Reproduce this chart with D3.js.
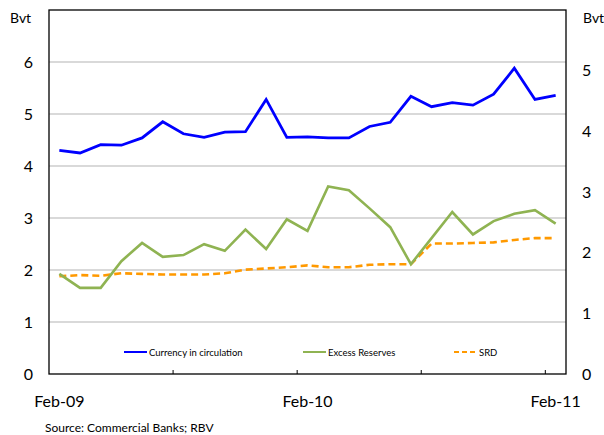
<!DOCTYPE html>
<html>
<head>
<meta charset="utf-8">
<script src="https://cdn.jsdelivr.net/npm/d3@7"></script>
<style>
  body { margin: 0; background: #fff; }
  svg text { font-family: Lato, "DejaVu Sans", sans-serif; fill: #000; }
</style>
</head>
<body>
<svg id="chart"></svg>
<script>
// monthly categories, Feb-09 .. Feb-11
let months = ['Feb-09','Mar-09','Apr-09','May-09','Jun-09','Jul-09','Aug-09','Sep-09','Oct-09','Nov-09','Dec-09','Jan-10',
              'Feb-10','Mar-10','Apr-10','May-10','Jun-10','Jul-10','Aug-10','Sep-10','Oct-10','Nov-10','Dec-10','Jan-11','Feb-11'];
let shownLabels = ['Feb-09', 'Feb-10', 'Feb-11'];

// left axis
let currency = [4.30, 4.25, 4.41, 4.40, 4.54, 4.85, 4.62, 4.55, 4.65, 4.66, 5.28, 4.55,
                4.56, 4.54, 4.54, 4.76, 4.84, 5.34, 5.14, 5.22, 5.17, 5.38, 5.88, 5.28, 5.36];
// right axis
let excess = [1.65, 1.42, 1.42, 1.86, 2.16, 1.93, 1.96, 2.14, 2.03, 2.38, 2.06, 2.55,
              2.36, 3.09, 3.03, 2.73, 2.42, 1.81, 2.24, 2.67, 2.30, 2.52, 2.64, 2.70, 2.48];
let srd = [1.61, 1.63, 1.62, 1.66, 1.65, 1.64, 1.64, 1.64, 1.66, 1.72, 1.74, 1.76,
           1.79, 1.76, 1.76, 1.80, 1.81, 1.81, 2.15, 2.15, 2.16, 2.17, 2.21, 2.24, 2.24];

let leftTicks = [0, 1, 2, 3, 4, 5, 6];
let rightTicks = [0, 1, 2, 3, 4, 5];

let width = 604, height = 435;
let plot = { left: 49, right: 566, top: 10, bottom: 374 };

let svg = d3.select('#chart').attr('width', width).attr('height', height);

let xScale = d3.scaleBand().domain(months).range([plot.left, plot.right]);
let yLeft = d3.scaleLinear().domain([0, 7]).range([plot.bottom, plot.top]);
let yRight = d3.scaleLinear().domain([0, 6]).range([plot.bottom, plot.top]);
let cx = (m) => xScale(m) + xScale.bandwidth() / 2;

// gridlines
svg.append('g')
   .selectAll('line')
   .data(leftTicks.filter(d => d > 0))
   .enter()
   .append('line')
   .attr('x1', plot.left).attr('x2', plot.right)
   .attr('y1', d => yLeft(d)).attr('y2', d => yLeft(d))
   .attr('stroke', '#b4b4b4').attr('stroke-width', 1.2);

// left axis labels
let yAxisL = d3.axisLeft(yLeft).tickValues(leftTicks).tickFormat(d3.format('d')).tickSize(0).tickPadding(16);
let gL = svg.append('g').attr('transform', 'translate(' + plot.left + ',0)').call(yAxisL);
gL.select('.domain').remove();
gL.selectAll('text').style('font-size', '16px');

// right axis labels
let yAxisR = d3.axisRight(yRight).tickValues(rightTicks).tickFormat(d3.format('d')).tickSize(0).tickPadding(16);
let gR = svg.append('g').attr('transform', 'translate(' + plot.right + ',0)').call(yAxisR);
gR.select('.domain').remove();
gR.selectAll('text').style('font-size', '16px');

// x axis labels
let xAxis = d3.axisBottom(xScale).tickValues(shownLabels).tickSize(0).tickPadding(22);
let gX = svg.append('g').attr('transform', 'translate(0,' + plot.bottom + ')').call(xAxis);
gX.select('.domain').remove();
gX.selectAll('text').style('font-size', '16px');

// small inward ticks every 6 months
svg.append('g')
   .selectAll('line')
   .data(months.filter((m, i) => i > 0 && i % 6 === 0))
   .enter()
   .append('line')
   .attr('x1', d => xScale(d)).attr('x2', d => xScale(d))
   .attr('y1', plot.bottom).attr('y2', plot.bottom - 4)
   .attr('stroke', '#000').attr('stroke-width', 1);

// frame
svg.append('rect')
   .attr('x', plot.left).attr('y', plot.top)
   .attr('width', plot.right - plot.left).attr('height', plot.bottom - plot.top)
   .attr('fill', 'none').attr('stroke', '#000').attr('stroke-width', 1.3);

// series
let lineL = d3.line().x((d, i) => cx(months[i])).y(d => yLeft(d));
let lineR = d3.line().x((d, i) => cx(months[i])).y(d => yRight(d));

svg.append('path').datum(srd).attr('d', lineR)
   .attr('fill', 'none').attr('stroke', '#ff9900').attr('stroke-width', 2.6)
   .attr('stroke-dasharray', '7,4');
svg.append('path').datum(excess).attr('d', lineR)
   .attr('fill', 'none').attr('stroke', '#8fb352').attr('stroke-width', 2.6);
svg.append('path').datum(currency).attr('d', lineL)
   .attr('fill', 'none').attr('stroke', '#0000ff').attr('stroke-width', 2.8);

// legend
let legend = [
  { name: 'Currency in circulation', color: '#0000ff', dash: null, x: 124 },
  { name: 'Excess Reserves', color: '#8fb352', dash: null, x: 303 },
  { name: 'SRD', color: '#ff9900', dash: '5,3', x: 454 }
];
let lg = svg.append('g');
legend.forEach(l => {
  lg.append('line')
    .attr('x1', l.x).attr('x2', l.x + 23)
    .attr('y1', 352).attr('y2', 352)
    .attr('stroke', l.color).attr('stroke-width', 2)
    .attr('stroke-dasharray', l.dash);
  lg.append('text')
    .attr('x', l.x + 25).attr('y', 355.5)
    .style('font-size', '9.5px')
    .text(l.name);
});

// unit labels
svg.append('text').attr('x', 10).attr('y', 23).style('font-size', '14px').text('Bvt');
svg.append('text').attr('x', 583).attr('y', 23).style('font-size', '14px').text('Bvt');

// source
svg.append('text').attr('x', 45).attr('y', 432).style('font-size', '12px').text('Source: Commercial Banks; RBV');
</script>
</body>
</html>
